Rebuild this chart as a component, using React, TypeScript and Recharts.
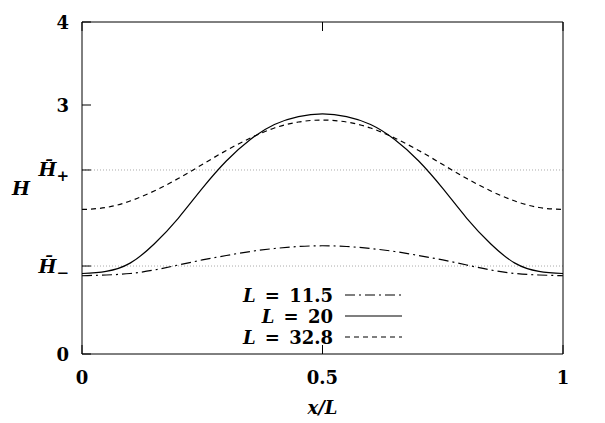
import React from 'react';
import { LineChart, Line, XAxis, YAxis, ReferenceLine, Legend, Label } from 'recharts';

// x/L sample positions and H values
const xs = [0, 0.05, 0.1, 0.15, 0.2, 0.25, 0.3, 0.35, 0.4, 0.45, 0.5, 0.55, 0.6, 0.65, 0.7, 0.75, 0.8, 0.85, 0.9, 0.95, 1];
const hL115 = [0.943, 0.952, 0.97, 1.012, 1.072, 1.133, 1.187, 1.235, 1.271, 1.295, 1.304, 1.295, 1.271, 1.235, 1.187, 1.133, 1.072, 1.012, 0.97, 0.952, 0.943];
const hL20 = [0.97, 0.995, 1.095, 1.325, 1.635, 1.995, 2.325, 2.585, 2.765, 2.86, 2.892, 2.86, 2.765, 2.585, 2.325, 1.995, 1.635, 1.325, 1.095, 0.995, 0.97];
const hL328 = [1.741, 1.765, 1.843, 1.964, 2.114, 2.283, 2.452, 2.602, 2.723, 2.795, 2.819, 2.795, 2.723, 2.602, 2.452, 2.283, 2.114, 1.964, 1.843, 1.765, 1.741];

const hMinus = 1.06;
const hPlus = 2.217;
const yTicks = [0, hMinus, hPlus, 3, 4];
const xTicks = [0, 0.5, 1];

const series = [
  { key: 'a', name: '11.5', dash: '10 4 2 4' },
  { key: 'b', name: '20', dash: undefined },
  { key: 'c', name: '32.8', dash: '5 4' },
];

const data = xs.map((x, i) => ({ x, a: hL115[i], b: hL20[i], c: hL328[i] }));

const FONT = '"DejaVu Serif", serif';
const TICK_LEN = 9;

function yLabel(v: number) {
  if (v === hPlus || v === hMinus) {
    return (
      <>
        <tspan fontStyle="italic" fontSize={19}>H̄</tspan>
        <tspan dy={5} fontSize={15} fontStyle="normal">{v === hPlus ? '+' : '−'}</tspan>
      </>
    );
  }
  return String(v);
}

function LeftTick(props: any) {
  const { x, y, payload } = props;
  return (
    <g>
      <line x1={x} x2={x + TICK_LEN} y1={y} y2={y} stroke="#000" />
      <text x={x - 13} y={y} dy={6.5} textAnchor="end" fontFamily={FONT} fontWeight="bold" fontSize={18} fill="#000">
        {yLabel(payload.value)}
      </text>
    </g>
  );
}

function RightTick(props: any) {
  const { x, y } = props;
  return <line x1={x} x2={x - TICK_LEN} y1={y} y2={y} stroke="#000" />;
}

function BottomTick(props: any) {
  const { x, y, payload } = props;
  return (
    <g>
      <line x1={x} x2={x} y1={y} y2={y - TICK_LEN} stroke="#000" />
      <text x={x} y={y + 30} textAnchor="middle" fontFamily={FONT} fontWeight="bold" fontSize={18} fill="#000">
        {String(payload.value)}
      </text>
    </g>
  );
}

function TopTick(props: any) {
  const { x, y } = props;
  return <line x1={x} x2={x} y1={y} y2={y + TICK_LEN} stroke="#000" />;
}

function LegendBox() {
  return (
    <svg width={180} height={70}>
      {series.map((s, i) => {
        const cy = 12 + i * 21;
        return (
          <g key={s.key}>
            <text x={103} y={cy} dy={6.5} textAnchor="end" fontFamily={FONT} fontWeight="bold" fontSize={18} fill="#000">
              <tspan fontStyle="italic">L</tspan>
              <tspan dx={3}>{' = '}</tspan>
              <tspan dx={3}>{s.name}</tspan>
            </text>
            <line x1={115} x2={172} y1={cy} y2={cy} stroke="#000" strokeWidth={1.2} strokeDasharray={s.dash} />
          </g>
        );
      })}
    </svg>
  );
}

export default function App() {
  return (
    <div style={{ position: 'absolute', left: 0, top: 0, width: 605, height: 423, background: '#fff' }}>
      <LineChart width={605} height={423} data={data} margin={{ top: 2, right: 22, bottom: 39, left: 0 }}>
        <XAxis
          dataKey="x"
          type="number"
          domain={[0, 1]}
          ticks={xTicks}
          height={30}
          tickSize={0}
          tickMargin={0}
          stroke="#000"
          tick={<BottomTick />}
        >
          <Label
            content={(p: any) => (
              <text
                x={p.viewBox.x + p.viewBox.width / 2}
                y={p.viewBox.y + 60}
                textAnchor="middle"
                fontFamily={FONT}
                fontWeight="bold"
                fontStyle="italic"
                fontSize={18}
                fill="#000"
              >
                x/L
              </text>
            )}
          />
        </XAxis>
        <XAxis
          xAxisId="top"
          dataKey="x"
          type="number"
          orientation="top"
          domain={[0, 1]}
          ticks={xTicks}
          height={20}
          tickSize={0}
          tickMargin={0}
          stroke="#000"
          tick={<TopTick />}
        />
        <YAxis
          type="number"
          domain={[0, 4]}
          ticks={yTicks}
          width={82}
          tickSize={0}
          tickMargin={0}
          stroke="#000"
          tick={<LeftTick />}
          interval={0}
        >
          <Label
            content={(p: any) => (
              <text
                x={21}
                y={p.viewBox.y + p.viewBox.height / 2}
                dy={6.5}
                textAnchor="middle"
                fontFamily={FONT}
                fontWeight="bold"
                fontStyle="italic"
                fontSize={19}
                fill="#000"
              >
                H
              </text>
            )}
          />
        </YAxis>
        <YAxis
          yAxisId="right"
          orientation="right"
          type="number"
          domain={[0, 4]}
          ticks={yTicks}
          width={20}
          tickSize={0}
          tickMargin={0}
          stroke="#000"
          tick={<RightTick />}
          interval={0}
        />
        <ReferenceLine y={hPlus} stroke="#aaa" strokeDasharray="1 2" />
        <ReferenceLine y={hMinus} stroke="#aaa" strokeDasharray="1 2" />
        {series.map((s) => (
          <Line
            key={s.key}
            dataKey={s.key}
            type="natural"
            stroke="#000"
            strokeWidth={1.2}
            strokeDasharray={s.dash}
            dot={false}
            isAnimationActive={false}
          />
        ))}
        <Legend
          layout="vertical"
          align="center"
          verticalAlign="middle"
          wrapperStyle={{ left: 230, top: 283, width: 180, height: 70 }}
          content={() => <LegendBox />}
        />
      </LineChart>
    </div>
  );
}
